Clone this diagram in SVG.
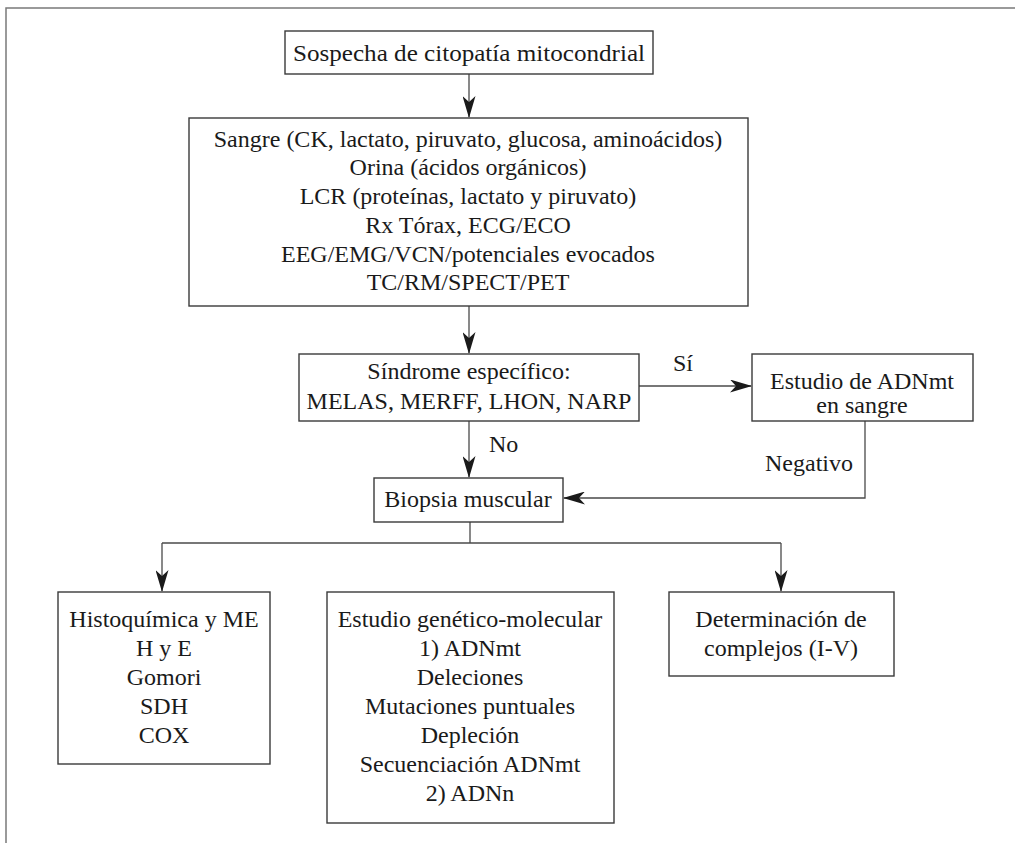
<svg xmlns="http://www.w3.org/2000/svg" width="1015" height="843" viewBox="0 0 1015 843">
  <style>
    .box { fill: #ffffff; stroke: #3a3a3a; stroke-width: 1.4; }
    .ln { fill: none; stroke: #4a4a4a; stroke-width: 1.3; }
    .t { font-family: "Liberation Serif", "Times New Roman", serif; font-size: 24px; fill: #1a1a1a; text-anchor: middle; }
    .lbl { text-anchor: start; }
  </style>
  <defs>
    <marker id="arr" viewBox="0 0 22 13" markerWidth="22" markerHeight="13" refX="21" refY="6.5" orient="auto" markerUnits="userSpaceOnUse">
      <path d="M0,0 L22,6.5 L0,13 L6,6.5 z" fill="#1a1a1a"/>
    </marker>
  </defs>
  <rect width="1015" height="843" fill="#ffffff"/>
  <!-- page frame: top and left rules -->
  <path d="M6,843 V8 H1015" fill="none" stroke="#7a7a7a" stroke-width="1.5"/>

  <g id="connectors">
    <path class="ln" d="M469,74 V117" marker-end="url(#arr)"/>
    <path class="ln" d="M469,306 V353" marker-end="url(#arr)"/>
    <path class="ln" d="M639,386 H751" marker-end="url(#arr)"/>
    <text class="t lbl" x="673" y="371">Sí</text>
    <path class="ln" d="M469,421 V477" marker-end="url(#arr)"/>
    <text class="t lbl" x="489" y="452">No</text>
    <path class="ln" d="M865,421 V498 H564" marker-end="url(#arr)"/>
    <text class="t" x="809" y="471">Negativo</text>
    <path class="ln" d="M470,522 V543"/>
    <path class="ln" d="M162,543 H781"/>
    <path class="ln" d="M162,543 V591" marker-end="url(#arr)"/>
    <path class="ln" d="M781,543 V591" marker-end="url(#arr)"/>
  </g>

  <g id="sospecha">
    <rect class="box" x="285" y="31" width="368" height="43"/>
    <text class="t" x="469" y="61" textLength="352" lengthAdjust="spacingAndGlyphs">Sospecha de citopatía mitocondrial</text>
  </g>

  <g id="pruebas">
    <rect class="box" x="189" y="118" width="559" height="188"/>
    <text class="t" x="468" y="147">Sangre (CK, lactato, piruvato, glucosa, aminoácidos)</text>
    <text class="t" x="468" y="175">Orina (ácidos orgánicos)</text>
    <text class="t" x="468" y="204">LCR (proteínas, lactato y piruvato)</text>
    <text class="t" x="468" y="233">Rx Tórax, ECG/ECO</text>
    <text class="t" x="468" y="262">EEG/EMG/VCN/potenciales evocados</text>
    <text class="t" x="468" y="290">TC/RM/SPECT/PET</text>
  </g>

  <g id="sindrome">
    <rect class="box" x="299" y="354" width="340" height="67"/>
    <text class="t" x="469" y="379">Síndrome específico:</text>
    <text class="t" x="469" y="409">MELAS, MERFF, LHON, NARP</text>
  </g>

  <g id="adnmt-sangre">
    <rect class="box" x="752" y="354" width="221" height="67"/>
    <text class="t" x="862" y="389">Estudio de ADNmt</text>
    <text class="t" x="862" y="413">en sangre</text>
  </g>

  <g id="biopsia">
    <rect class="box" x="374" y="478" width="189" height="44"/>
    <text class="t" x="468" y="507">Biopsia muscular</text>
  </g>

  <g id="histoquimica">
    <rect class="box" x="58" y="592" width="212" height="172"/>
    <text class="t" x="164" y="627">Histoquímica y ME</text>
    <text class="t" x="164" y="656">H y E</text>
    <text class="t" x="164" y="685">Gomori</text>
    <text class="t" x="164" y="714">SDH</text>
    <text class="t" x="164" y="743">COX</text>
  </g>

  <g id="genetico">
    <rect class="box" x="327" y="592" width="287" height="231"/>
    <text class="t" x="470" y="627">Estudio genético-molecular</text>
    <text class="t" x="470" y="656">1) ADNmt</text>
    <text class="t" x="470" y="685">Deleciones</text>
    <text class="t" x="470" y="714">Mutaciones puntuales</text>
    <text class="t" x="470" y="743">Depleción</text>
    <text class="t" x="470" y="772">Secuenciación ADNmt</text>
    <text class="t" x="470" y="801">2) ADNn</text>
  </g>

  <g id="complejos">
    <rect class="box" x="669" y="592" width="225" height="84"/>
    <text class="t" x="781" y="627">Determinación de</text>
    <text class="t" x="781" y="656">complejos (I-V)</text>
  </g>
</svg>
